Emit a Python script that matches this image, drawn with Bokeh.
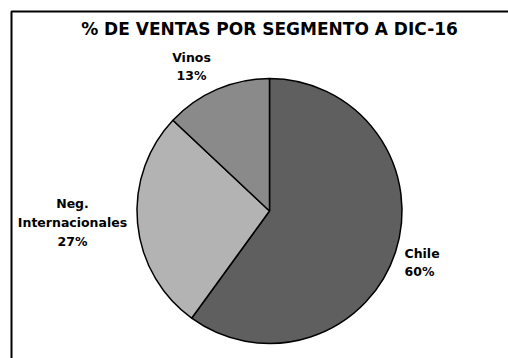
import math
from bokeh.plotting import figure
from bokeh.models import Range1d, ColumnDataSource
from bokeh.core.properties import value
from bokeh.embed import file_html
from bokeh.resources import INLINE

title = "% DE VENTAS POR SEGMENTO A DIC-16"
segments = ["Chile", "Neg.\nInternacionales", "Vinos"]
shares = [60, 27, 13]
colors = ["#5f5f5f", "#b3b3b3", "#8a8a8a"]

W, H = 508, 358
cx, cy, r = 269, H - 210.5, 132.5

p = figure(width=W, height=H, output_backend="svg", toolbar_location=None,
           x_range=Range1d(0, W), y_range=Range1d(0, H), min_border=0)
p.axis.visible = False
p.grid.visible = False
p.outline_line_color = None
p.background_fill_color = "white"
p.border_fill_color = "white"

# frame
p.quad(left=[11], right=[W + 20], bottom=[-20], top=[H - 11], fill_color=None,
       line_color="black", line_width=2)

total = sum(shares)
starts, ends = [], []
cum = 0
for s in shares:
    a0 = math.pi / 2 - 2 * math.pi * cum / total
    cum += s
    a1 = math.pi / 2 - 2 * math.pi * cum / total
    starts.append(a0)
    ends.append(a1)

src = ColumnDataSource(dict(start=starts, end=ends, color=colors))
p.wedge(x=cx, y=cy, radius=r, start_angle="start", end_angle="end", direction="clock",
        fill_color="color", line_color="black", line_width=1.5, source=src)

# labels
label_pos = [(404, H - 262), (72, H - 222), (191, H - 66)]
aligns = ["left", "center", "center"]
for name, s, (lx, ly), al in zip(segments, shares, label_pos, aligns):
    lines = name.split("\n") + [f"{s}%"]
    txt = "\n".join(lines)
    p.text(x=[lx], y=[ly], text=[txt], text_font=value("DejaVu Sans"),
           text_font_style="bold", text_font_size="12.5px", text_align=al,
           text_baseline="middle", text_color="black", text_line_height=1.25)

p.text(x=[269], y=[H - 28], text=[title], text_font=value("DejaVu Sans"),
       text_font_style="bold", text_font_size="17px", text_align="center",
       text_baseline="middle", text_color="black")

open("out.html", "w").write(file_html(p, INLINE))
